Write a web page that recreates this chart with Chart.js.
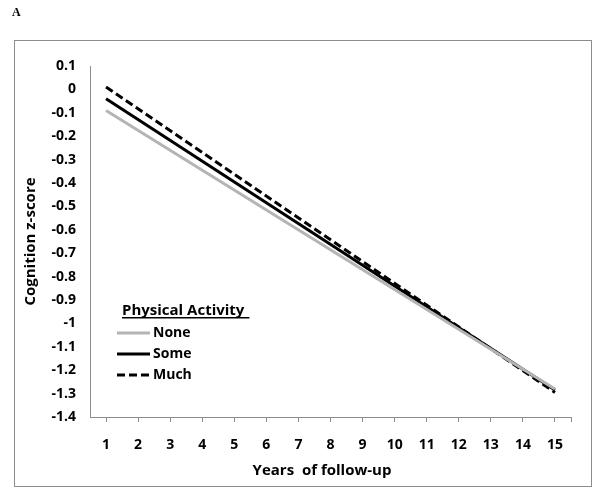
<!DOCTYPE html>
<html>
<head>
<meta charset="utf-8">
<script src="https://cdn.jsdelivr.net/npm/chart.js@4/dist/chart.umd.min.js"></script>
<style>
html,body{margin:0;padding:0;background:#fff;}
canvas{display:block;}
</style>
</head>
<body>
<canvas id="c" width="600" height="497"></canvas>
<script>
// Data
const years = [1, 15];
const seriesNames = ["None", "Some", "Much"];
const noneValues = [-0.09, -1.28];
const someValues = [-0.04, -1.285];
const muchValues = [0.01, -1.295];
const xTickValues = [1,2,3,4,5,6,7,8,9,10,11,12,13,14,15];
const yTickValues = [0.1,0,-0.1,-0.2,-0.3,-0.4,-0.5,-0.6,-0.7,-0.8,-0.9,-1,-1.1,-1.2,-1.3,-1.4];
const legendTitle = "Physical Activity";
const panelLabel = "A";
const xTitle = "Years  of follow-up";
const yTitle = "Cognition z-score";

const FONT = "'Open Sans', 'DejaVu Sans', sans-serif";
const styles = [
  {color: '#b4b4b4', dash: []},
  {color: '#000000', dash: []},
  {color: '#000000', dash: [8, 4]}
];
const valueSets = [noneValues, someValues, muchValues];

const datasets = seriesNames.map((name, i) => ({
  label: name,
  data: years.map((x, j) => ({x: x, y: valueSets[i][j]})),
  borderColor: styles[i].color,
  borderDash: styles[i].dash,
  borderWidth: 3,
  pointRadius: 0,
  fill: false,
  tension: 0
}));

const decor = {
  id: 'decor',
  afterDraw(chart) {
    const ctx = chart.ctx;
    ctx.save();
    // outer frame
    ctx.strokeStyle = '#8c8c8c';
    ctx.lineWidth = 1;
    ctx.strokeRect(14.5, 40.5, 577, 446);
    // panel label
    ctx.fillStyle = '#000';
    ctx.font = "bold 12px 'Liberation Serif', serif";
    ctx.textBaseline = 'middle';
    ctx.textAlign = 'left';
    ctx.fillText(panelLabel, 12, 13);
    // x axis title
    ctx.font = "bold 15px " + FONT;
    ctx.textAlign = 'center';
    ctx.fillText(xTitle, 322, 471);
    ctx.textAlign = 'left';
    // legend
    ctx.font = "bold 15px " + FONT;
    ctx.fillText(legendTitle, 122, 311);
    const tw = ctx.measureText(legendTitle).width;
    ctx.fillRect(122, 317, tw + 5, 1.5);
    ctx.font = "bold 14px " + FONT;
    const rows = [333, 354, 375];
    chart.data.datasets.forEach((ds, i) => {
      ctx.beginPath();
      ctx.strokeStyle = ds.borderColor;
      ctx.lineWidth = 3;
      ctx.setLineDash(ds.borderDash || []);
      ctx.moveTo(117, rows[i]);
      ctx.lineTo(150, rows[i]);
      ctx.stroke();
      ctx.setLineDash([]);
      ctx.fillStyle = '#000';
      ctx.fillText(ds.label, 153, rows[i]);
    });
    ctx.restore();
  }
};

new Chart(document.getElementById('c'), {
  type: 'line',
  data: {datasets},
  options: {
    responsive: false,
    animation: false,
    layout: {padding: {left: 0, top: 66, right: 29, bottom: 0}},
    plugins: {legend: {display: false}, tooltip: {enabled: false}},
    scales: {
      x: {
        type: 'linear',
        min: 0.5,
        max: 15.5,
        afterBuildTicks(scale) {
          scale.ticks = xTickValues.map(v => ({value: v})).concat([{value: 15.5}]);
        },
        afterFit(scale) { scale.height = 80; },
        border: {display: true, color: '#8c8c8c', width: 1},
        grid: {display: true, drawOnChartArea: false, drawTicks: true, tickLength: 5, color: '#8c8c8c'},
        ticks: {
          autoSkip: false,
          maxRotation: 0,
          padding: 15,
          color: '#000',
          font: {family: FONT, size: 14, weight: 'bold'},
          callback: (v) => xTickValues.includes(v) ? String(v) : ''
        },
        title: {display: false, text: xTitle}
      },
      y: {
        type: 'linear',
        min: -1.4,
        max: 0.1,
        afterBuildTicks(scale) {
          scale.ticks = yTickValues.map(v => ({value: v}));
        },
        afterFit(scale) { scale.width = 90; },
        border: {display: true, color: '#8c8c8c', width: 1},
        grid: {display: false, drawTicks: false},
        ticks: {
          padding: 14,
          color: '#000',
          font: {family: FONT, size: 14, weight: 'bold'},
          callback: (v) => String(Number(Number(v).toFixed(1)))
        },
        title: {
          display: true,
          text: yTitle,
          color: '#000',
          font: {family: FONT, size: 15, weight: 'bold'},
          padding: {top: 22, bottom: 0}
        }
      }
    }
  },
  plugins: [decor]
});
</script>
</body>
</html>
